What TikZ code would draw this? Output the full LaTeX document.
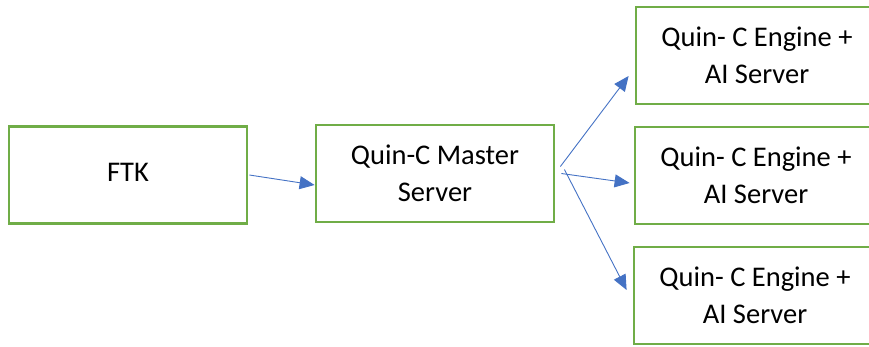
\documentclass[tikz,border=0pt]{standalone}
\usepackage{fontspec}
\setmainfont{Carlito}
\usetikzlibrary{arrows.meta,calc}
\definecolor{boxgreen}{HTML}{70AD47}
\definecolor{arrowblue}{HTML}{4472C4}
\begin{document}
\begin{tikzpicture}[x=1pt,y=-1pt,
  box/.style={draw=boxgreen,line width=2.8pt,fill=white,align=center,
    minimum width=238pt,inner sep=0pt,font=\fontsize{28.5}{37}\selectfont},
  conn/.style={draw=arrowblue,line width=0.9pt,-{Triangle[length=15pt,width=13pt]}}]
\useasboundingbox (0,0) rectangle (869,346);
\clip (0,0) rectangle (869,346);
\node[box,minimum height=97pt] (ftk) at (128,175) {\raisebox{5pt}{FTK}};
\node[box,minimum height=97pt] (master) at (435,173.5) {Quin-C Master\\Server};
\node[box,minimum height=97pt,minimum width=242pt] (top) at (757,55.5) {Quin- C Engine +\\AI Server};
\node[box,minimum height=97pt,minimum width=242pt] (mid) at (756,175.5) {Quin- C Engine +\\AI Server};
\node[box,minimum height=97pt,minimum width=242pt] (bot) at (755,295.5) {Quin- C Engine +\\AI Server};
\coordinate (a0) at ($(ftk.east)+(1,0)$);
\coordinate (a1) at ($(master.west)+(0,11.5)$);
\coordinate (b0) at ($(master.east)+(5,-7)$);
\coordinate (b1) at ($(top.west)+(-6,20.5)$);
\coordinate (c0) at ($(master.east)+(6,0)$);
\coordinate (c1) at ($(mid.west)+(-4,7.5)$);
\coordinate (d0) at ($(master.east)+(9,-4)$);
\coordinate (d1) at ($(bot.west)+(-6,-5.5)$);
\draw[conn] (a0) -- (a1);
\draw[conn] (b0) -- (b1);
\draw[conn] (c0) -- (c1);
\draw[conn] (d0) -- (d1);
\end{tikzpicture}
\end{document}
